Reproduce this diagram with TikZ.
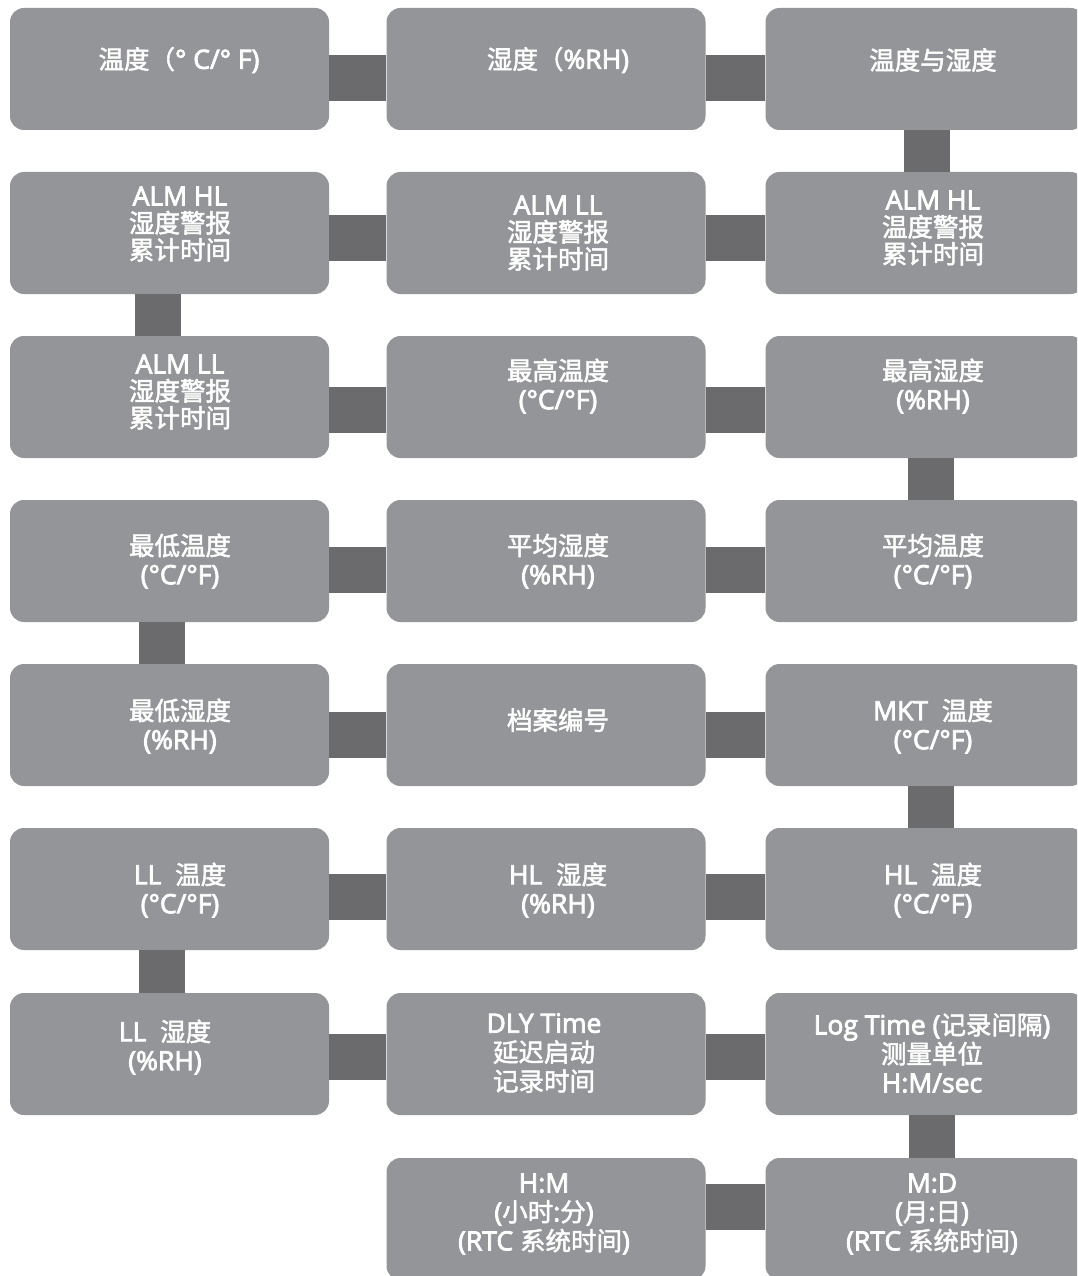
\documentclass[tikz,border=0pt]{standalone}
\usepackage{fontspec}
\setmainfont{Open Sans}[FakeBold=3]
\newfontfamily\cjkfont{Noto Sans CJK SC}[FakeBold=2]
\newcommand{\zh}[1]{{\cjkfont\fontsize{25.5}{28}\selectfont #1}}
\usetikzlibrary{calc}
\definecolor{boxgray}{HTML}{939598}
\definecolor{conngray}{HTML}{6B6B6E}
\tikzset{
  box/.style={rectangle, rounded corners=14pt, fill=boxgray, minimum width=319pt, minimum height=122pt, inner sep=0pt},
  txt/.style={text=white, align=center, inner sep=0pt, font=\fontsize{26.5}{29}\selectfont},
  txtthree/.style={txt, font=\fontsize{26.5}{27}\selectfont},
  hconn/.style={draw=conngray, line width=46pt, line cap=butt},
  vconn/.style={draw=conngray, line width=46pt, line cap=butt}
}
\begin{document}
\begin{tikzpicture}[x=1pt,y=-1pt]
\clip (0,0) rectangle (1077,1276);
\fill[white] (0,0) rectangle (1077,1276);
% boxes: col centres 169.5, 546, 925 ; row centres top+61
\node[box] (b11) at (169.5,69) {};
\node[box] (b12) at (546,69) {};
\node[box] (b13) at (925,69) {};
\node[box] (b21) at (169.5,233) {};
\node[box] (b22) at (546,233) {};
\node[box] (b23) at (925,233) {};
\node[box] (b31) at (169.5,397) {};
\node[box] (b32) at (546,397) {};
\node[box] (b33) at (925,397) {};
\node[box] (b41) at (169.5,561) {};
\node[box] (b42) at (546,561) {};
\node[box] (b43) at (925,561) {};
\node[box] (b51) at (169.5,725) {};
\node[box] (b52) at (546,725) {};
\node[box] (b53) at (925,725) {};
\node[box] (b61) at (169.5,889) {};
\node[box] (b62) at (546,889) {};
\node[box] (b63) at (925,889) {};
\node[box] (b71) at (169.5,1054) {};
\node[box] (b72) at (546,1054) {};
\node[box] (b73) at (925,1054) {};
\node[box] (b82) at (546,1219) {};
\node[box] (b83) at (925,1219) {};
% horizontal connectors
\draw[hconn] ($(b11.east)+(0,9.5)$) -- ($(b12.west)+(0,9.5)$);
\draw[hconn] ($(b12.east)+(0,9.5)$) -- ($(b13.west)+(0,9.5)$);
\draw[hconn] ($(b21.east)+(0,4.5)$) -- ($(b22.west)+(0,4.5)$);
\draw[hconn] ($(b22.east)+(0,4.5)$) -- ($(b23.west)+(0,4.5)$);
\draw[hconn] ($(b31.east)+(0,12.5)$) -- ($(b32.west)+(0,12.5)$);
\draw[hconn] ($(b32.east)+(0,12.5)$) -- ($(b33.west)+(0,12.5)$);
\draw[hconn] ($(b41.east)+(0,9)$) -- ($(b42.west)+(0,9)$);
\draw[hconn] ($(b42.east)+(0,9)$) -- ($(b43.west)+(0,9)$);
\draw[hconn] ($(b51.east)+(0,10)$) -- ($(b52.west)+(0,10)$);
\draw[hconn] ($(b52.east)+(0,10)$) -- ($(b53.west)+(0,10)$);
\draw[hconn] ($(b61.east)+(0,7.5)$) -- ($(b62.west)+(0,7.5)$);
\draw[hconn] ($(b62.east)+(0,7.5)$) -- ($(b63.west)+(0,7.5)$);
\draw[hconn] ($(b71.east)+(0,2.5)$) -- ($(b72.west)+(0,2.5)$);
\draw[hconn] ($(b72.east)+(0,2.5)$) -- ($(b73.west)+(0,2.5)$);
\draw[hconn] ($(b82.east)+(0,-12)$) -- ($(b83.west)+(0,-12)$);
% vertical connectors
\draw[vconn] ($(b13.south)+(1.5,0)$) -- ($(b23.north)+(1.5,0)$);
\draw[vconn] ($(b21.south)+(-12,0)$) -- ($(b31.north)+(-12,0)$);
\draw[vconn] ($(b33.south)+(6,0)$) -- ($(b43.north)+(6,0)$);
\draw[vconn] ($(b41.south)+(-8,0)$) -- ($(b51.north)+(-8,0)$);
\draw[vconn] ($(b53.south)+(6,0)$) -- ($(b63.north)+(6,0)$);
\draw[vconn] ($(b61.south)+(-8,0)$) -- ($(b71.north)+(-8,0)$);
\draw[vconn] ($(b73.south)+(7,0)$) -- ($(b83.north)+(7,0)$);
% texts
\node[txt] (t11) at (179,60) {\zh{温度（}° C/° F)};
\node[txt] (t12) at (558,60) {\zh{湿度（}\%RH)};
\node[txt] (t13) at (933,60) {\zh{温度与湿度}};
\node[txtthree] (t21) at (180,224) {ALM HL\\\zh{湿度警报}\\\zh{累计时间}};
\node[txtthree] (t22) at (558,233) {ALM LL\\\zh{湿度警报}\\\zh{累计时间}};
\node[txtthree] (t23) at (933,228) {ALM HL\\\zh{温度警报}\\\zh{累计时间}};
\node[txtthree] (t31) at (180,392) {ALM LL\\\zh{湿度警报}\\\zh{累计时间}};
\node[txt] (t32) at (558,386) {\zh{最高温度}\\(°C/°F)};
\node[txt] (t33) at (933,386) {\zh{最高湿度}\\(\%RH)};
\node[txt] (t41) at (180,561) {\zh{最低温度}\\(°C/°F)};
\node[txt] (t42) at (558,561) {\zh{平均湿度}\\(\%RH)};
\node[txt] (t43) at (933,561) {\zh{平均温度}\\(°C/°F)};
\node[txt] (t51) at (180,726) {\zh{最低湿度}\\(\%RH)};
\node[txt] (t52) at (558,720) {\zh{档案编号}};
\node[txt] (t53) at (933,726) {MKT\ \ \zh{温度}\\(°C/°F)};
\node[txt] (t61) at (180,890) {LL\ \ \zh{温度}\\(°C/°F)};
\node[txt] (t62) at (558,890) {HL\ \ \zh{湿度}\\(\%RH)};
\node[txt] (t63) at (933,890) {HL\ \ \zh{温度}\\(°C/°F)};
\node[txt] (t71) at (165,1047) {LL\ \ \zh{湿度}\\(\%RH)};
\node[txt] (t72) at (544,1053) {DLY Time\\\zh{延迟启动}\\\zh{记录时间}};
\node[txt] (t73) at (932,1053) {Log Time (\zh{记录间隔})\\\zh{测量单位}\\H:M/sec};
\node[txt] (t82) at (544,1214) {H:M\\(\zh{小时}:\zh{分})\\(RTC \zh{系统时间})};
\node[txt] (t83) at (932,1214) {M:D\\(\zh{月}:\zh{日})\\(RTC \zh{系统时间})};
\end{tikzpicture}
\end{document}
